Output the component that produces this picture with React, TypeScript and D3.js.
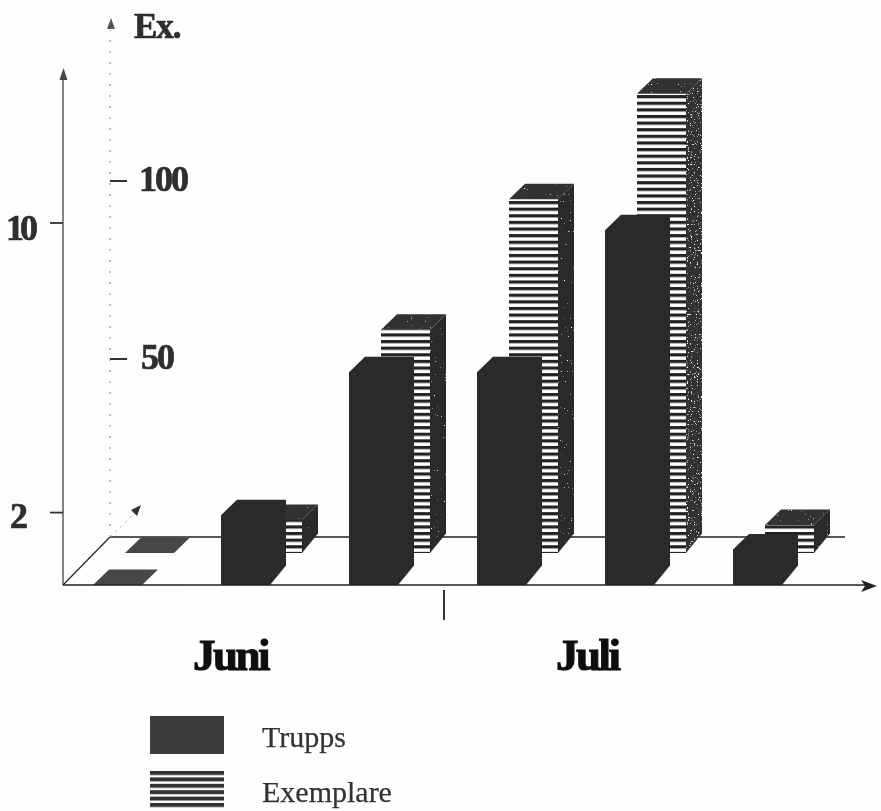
import React from "react";
import * as d3 from "d3";

const slots = ["J1", "J2", "J3", "J4", "J5", "J6"];
const trupps = [0, 1.93, 5.88, 5.88, 9.8, 0.98];
const exemplare = [0, 9.3, 62.7, 99.4, 129, 7.9];
const truppTicks = [2, 10];
const exTicks = [50, 100];
const months = [
  { label: "Juni", x: 193 },
  { label: "Juli", x: 556 },
];
const legendItems = ["Trupps", "Exemplare"];

const W = 881;
const H = 811;
const FRONT_BASE = 585;
const REAR_BASE = 553;
const BACK_BASE = 537;
const ORIGIN_X = 63;
const BACK_X = 110;
const BAR_W = 49;
const DX = 16;
const DY = 15.5;
const REAR_OFF = 32;
const DARK = "#2b2b2b";
const SERIF = "'Liberation Serif', 'DejaVu Serif', serif";

const xScale = d3.scalePoint<string>().domain(slots).range([93, 733]);
const yTrupps = d3.scaleLinear().domain([0, 10]).range([FRONT_BASE, 223]);
const yEx = d3.scaleLinear().domain([0, 100]).range([BACK_BASE, 181]);

const poly = (pts: [number, number][]) => d3.line()(pts) + "Z";

function faces(x: number, base: number, top: number) {
  const r = x + BAR_W;
  return {
    front: poly([[x, base], [r, base], [r, top], [x, top]]),
    top: poly([[x, top], [x + DX, top - DY], [r + DX, top - DY], [r, top]]),
    side: poly([[r, base], [r + DX, base - DY - 4], [r + DX, top - DY], [r, top]]),
    outline: poly([
      [x, base],
      [r, base],
      [r + DX, base - DY - 4],
      [r + DX, top - DY],
      [x + DX, top - DY],
      [x, top],
    ]),
  };
}

const boldText = { fontFamily: SERIF, fontWeight: 700, fill: "#2e2e2e", stroke: "#2e2e2e", strokeWidth: 0.7 };

export default function App() {
  const baseScale = yEx(0);
  return (
    <svg
      width={W}
      height={H}
      viewBox={`0 0 ${W} ${H}`}
      style={{ position: "absolute", left: 0, top: 0, display: "block", background: "#fefefd" }}
    >
      <defs>
        <pattern id="stripes" width={8} height={6.62} patternUnits="userSpaceOnUse" patternTransform="translate(0 2.4)">
          <rect width={8} height={6.62} fill="#ffffff" />
          <rect width={8} height={3.2} fill="#222222" />
        </pattern>
        <pattern id="legendStripes" width={8} height={6.4} patternUnits="userSpaceOnUse" patternTransform="translate(0 771)">
          <rect width={8} height={6.4} fill="#ffffff" />
          <rect width={8} height={4} fill="#333333" />
        </pattern>
        <filter id="speck" x="0" y="0" width="100%" height="100%">
          <feTurbulence type="fractalNoise" baseFrequency="0.7" numOctaves={2} seed={4} result="n" />
          <feColorMatrix in="n" type="matrix" values="0 0 0 0 1  0 0 0 0 1  0 0 0 0 1  0 0 0 9 -6.7" result="s" />
          <feComposite in="s" in2="SourceGraphic" operator="in" result="c" />
          <feMerge>
            <feMergeNode in="SourceGraphic" />
            <feMergeNode in="c" />
          </feMerge>
        </filter>
        <filter id="speckHeavy" x="0" y="0" width="100%" height="100%">
          <feTurbulence type="fractalNoise" baseFrequency="0.7" numOctaves={2} seed={9} result="n" />
          <feColorMatrix in="n" type="matrix" values="0 0 0 0 1  0 0 0 0 1  0 0 0 0 1  0 0 0 9 -5.9" result="s" />
          <feComposite in="s" in2="SourceGraphic" operator="in" result="c" />
          <feMerge>
            <feMergeNode in="SourceGraphic" />
            <feMergeNode in="c" />
          </feMerge>
        </filter>
        <filter id="soft" x="-5%" y="-5%" width="110%" height="110%">
          <feGaussianBlur stdDeviation="0.4" />
        </filter>
      </defs>

      {/* faint show-through of the scanned page */}
      <rect x={55} y={0} width={145} height={205} fill="#fdfdfb" />
      <rect x={0} y={200} width={185} height={425} fill="#fdfdfb" />

      <g filter="url(#soft)">
        {/* back and floor lines */}
        <line x1={BACK_X} x2={845} y1={BACK_BASE} y2={BACK_BASE} stroke="#222" strokeWidth={1.4} />
        <line x1={ORIGIN_X} x2={BACK_X} y1={FRONT_BASE} y2={BACK_BASE} stroke="#222" strokeWidth={1.2} />
        <line x1={BACK_X} x2={BACK_X} y1={BACK_BASE} y2={30} stroke="#888" strokeWidth={1} strokeDasharray="2 9" />
        <path d={poly([[111, 18], [107, 29], [115, 29]])} fill="#555" />
        <line x1={BACK_X} x2={132} y1={BACK_BASE} y2={516} stroke="#999" strokeWidth={1} strokeDasharray="2 5" />
        <path d={poly([[141, 505], [131, 510], [137, 516]])} fill="#333" />

        {/* Exemplare */}
        {slots.map((s, i) => {
          const x = (xScale(s) as number) + REAR_OFF;
          const top = REAR_BASE - (baseScale - yEx(exemplare[i]));
          if (exemplare[i] === 0) {
            return <path key={s} d={faces(x, REAR_BASE, REAR_BASE).top} fill="#474747" />;
          }
          const f = faces(x, REAR_BASE, top);
          return (
            <g key={s}>
              <path d={f.front} fill="url(#stripes)" />
              <path d={f.side} fill={i === 4 ? "#333333" : DARK} filter={i === 4 ? "url(#speckHeavy)" : "url(#speck)"} />
              <path d={f.top} fill="#333333" filter="url(#speck)" />
            </g>
          );
        })}

        {/* Trupps */}
        {slots.map((s, i) => {
          const x = xScale(s) as number;
          const top = yTrupps(trupps[i]);
          if (trupps[i] === 0) {
            return <path key={s} d={faces(x, FRONT_BASE, FRONT_BASE).top} fill="#474747" />;
          }
          const f = faces(x, FRONT_BASE, top);
          return <path key={s} d={f.outline} fill={DARK} />;
        })}

        {/* axes */}
        <line x1={ORIGIN_X} x2={ORIGIN_X} y1={FRONT_BASE} y2={76} stroke="#333" strokeWidth={1.2} />
        <path d={poly([[63.5, 68], [59.5, 80], [67.5, 80]])} fill="#444" />
        <line x1={ORIGIN_X} x2={865} y1={FRONT_BASE} y2={FRONT_BASE} stroke="#222" strokeWidth={1.6} />
        <path d={poly([[877, 586], [861, 580], [865, 586], [861, 592]])} fill="#222" />
        <line x1={444} x2={444} y1={590} y2={620} stroke="#333" strokeWidth={2} />

        {/* ticks */}
        {truppTicks.map((t) => (
          <g key={t}>
            <line x1={50} x2={ORIGIN_X} y1={yTrupps(t)} y2={yTrupps(t)} stroke="#333" strokeWidth={1.8} />
            <text x={t === 10 ? 6 : 10} y={yTrupps(t) + (t === 10 ? 17 : 15)} fontSize={36} letterSpacing={-4} {...boldText}>
              {t}
            </text>
          </g>
        ))}
        {exTicks.map((t) => (
          <g key={t}>
            <line x1={110} x2={127} y1={yEx(t)} y2={yEx(t)} stroke="#333" strokeWidth={2} />
            <text x={t === 100 ? 139 : 141} y={yEx(t) + 10} fontSize={36} letterSpacing={-2} {...boldText}>
              {t}
            </text>
          </g>
        ))}
        <text x={134} y={38} fontSize={35} letterSpacing={-1} {...boldText}>
          Ex.
        </text>

        {/* months */}
        {months.map((m) => (
          <text
            key={m.label}
            x={m.x}
            y={670}
            fontFamily={SERIF}
            fontWeight={700}
            fontSize={45}
            letterSpacing={-2.5}
            fill="#0c0c0c"
            stroke="#0c0c0c"
            strokeWidth={1.1}
          >
            {m.label}
          </text>
        ))}

        {/* legend */}
        <rect x={150} y={716} width={74} height={38} fill="#3a3a3a" />
        <rect x={150} y={771} width={74} height={38} fill="url(#legendStripes)" />
        {legendItems.map((l, i) => (
          <text key={l} x={262} y={747 + i * 55} fontFamily={SERIF} fontSize={30} fill="#333" stroke="#333" strokeWidth={0.25}>
            {l}
          </text>
        ))}
      </g>
    </svg>
  );
}
